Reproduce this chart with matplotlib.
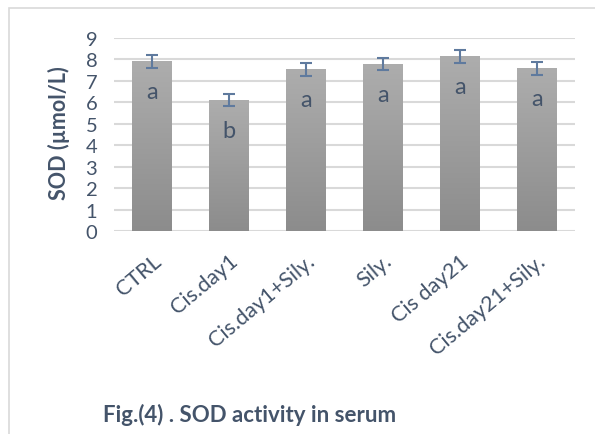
import numpy as np
import matplotlib.pyplot as plt
from matplotlib.patches import Rectangle

plt.rcParams['font.family'] = ['Lato', 'DejaVu Sans']

# data
groups = ["CTRL", "Cis.day1", "Cis.day1+Sily.", "Sily.", "Cis day21", "Cis.day21+Sily."]
sod = [7.9, 6.1, 7.53, 7.77, 8.14, 7.58]
sod_err = [0.3, 0.28, 0.3, 0.28, 0.29, 0.3]
letters = ["a", "b", "a", "a", "a", "a"]

text_col = "#44546A"
grid_col = "#d9d9d9"

fig = plt.figure(figsize=(5.95, 4.35), dpi=100)
# outer chart frame
fig.patches.append(Rectangle((9 / 595, -0.1), 1.2, 1 - 9 / 435 + 0.1,
                             transform=fig.transFigure, fill=False,
                             edgecolor=grid_col, linewidth=1.2))

ax = fig.add_axes([0.1916, 0.4667, 0.7748, 0.4436])
x = np.arange(len(groups))
bars = ax.bar(x, sod, width=0.52, color="none", zorder=3)

# vertical gradient inside each bar
grad = np.linspace(0, 1, 256).reshape(-1, 1)
cmap = plt.matplotlib.colors.LinearSegmentedColormap.from_list("g", ["#8c8c8c", "#adadad"])
for b in bars:
    x0, w, h = b.get_x(), b.get_width(), b.get_height()
    ax.imshow(grad, extent=(x0, x0 + w, 0, h), origin="lower", aspect="auto",
              cmap=cmap, zorder=3)

ax.errorbar(x, sod, yerr=sod_err, fmt="none", ecolor="#5f7a9e", elinewidth=1.5,
            capsize=4.5, capthick=1.5, zorder=4)

for xi, v, t in zip(x, sod, letters):
    ax.text(xi, v - 1.4, t, ha="center", va="center", fontsize=17, color=text_col, zorder=5)

ax.set_xlim(-0.5, len(groups) - 0.5)
ax.set_ylim(0, 9)
ax.set_yticks(range(0, 10))
ax.yaxis.grid(True, color=grid_col, linewidth=1.5, zorder=0)
ax.set_axisbelow(True)
for s in ax.spines.values():
    s.set_visible(False)
ax.tick_params(length=0)
ax.tick_params(axis="y", labelsize=14.5, labelcolor=text_col, pad=12)
ax.set_xticks(x)
ax.set_xticklabels(groups, rotation=40, ha="right", rotation_mode="anchor",
                   fontsize=15.5, color=text_col)
ax.tick_params(axis="x", pad=14)
ax.set_ylabel("SOD (µmol/L)", fontsize=15.5, fontweight="bold", color=text_col)
ax.yaxis.set_label_coords(-0.095, 0.513)

fig.text(103 / 595, 1 - 415 / 435, "Fig.(4) . SOD activity in serum", fontsize=16,
         fontweight="bold", color=text_col, ha="left", va="center")

fig.savefig("out.png", dpi=100)
